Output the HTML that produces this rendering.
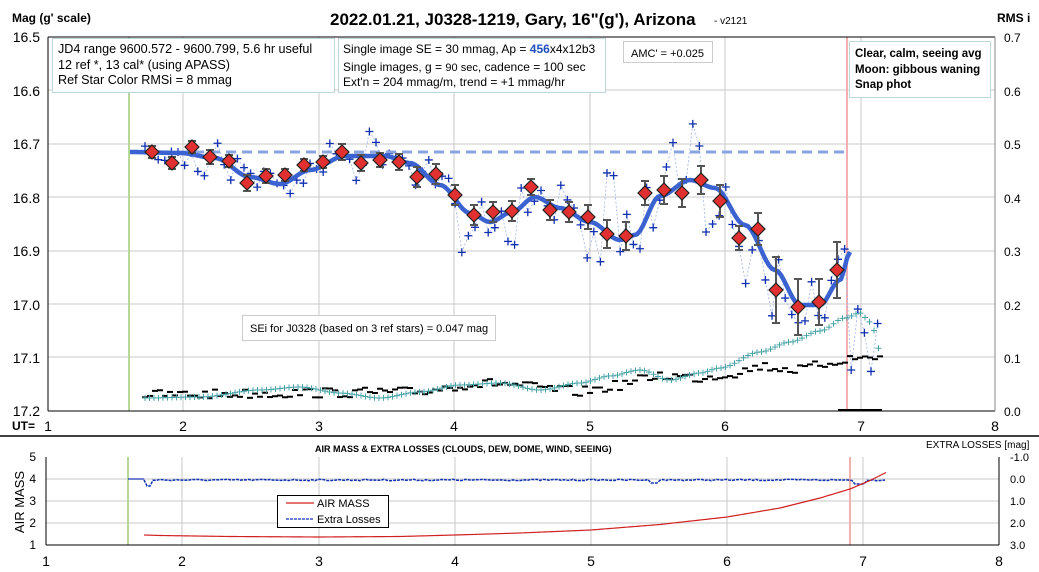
<!DOCTYPE html>
<html><head><meta charset="utf-8"><style>
body{margin:0;background:#fff;}
svg{display:block;font-family:"Liberation Sans",sans-serif;}
</style></head><body>
<svg id="s" width="1039" height="572" viewBox="0 0 1039 572" xmlns="http://www.w3.org/2000/svg">
<rect width="1039" height="572" fill="#fff"/>
<g id="grid" stroke="#c8c8c8" stroke-width="1"></g>
<g id="data"></g>
<line x1="48" y1="37" x2="995" y2="37" stroke="#000"/>
<line x1="48" y1="37" x2="48" y2="411" stroke="#000"/>
<line x1="48" y1="411" x2="995" y2="411" stroke="#000"/>
<line x1="995" y1="37" x2="995" y2="411" stroke="#888"/>
<g font-size="14" fill="#000">
<text x="40" y="42" text-anchor="end">16.5</text>
<text x="40" y="96" text-anchor="end">16.6</text>
<text x="40" y="149" text-anchor="end">16.7</text>
<text x="40" y="203" text-anchor="end">16.8</text>
<text x="40" y="256" text-anchor="end">16.9</text>
<text x="40" y="310" text-anchor="end">17.0</text>
<text x="40" y="363" text-anchor="end">17.1</text>
<text x="40" y="416" text-anchor="end">17.2</text>
</g>
<g font-size="12" fill="#000">
<text x="1004" y="42">0.7</text><text x="1004" y="96">0.6</text><text x="1004" y="149">0.5</text>
<text x="1004" y="203">0.4</text><text x="1004" y="256">0.3</text><text x="1004" y="310">0.2</text>
<text x="1004" y="363">0.1</text><text x="1004" y="416">0.0</text>
</g>
<g font-size="14" text-anchor="middle">
<text x="48" y="431">1</text><text x="183" y="431">2</text><text x="319" y="431">3</text><text x="454" y="431">4</text>
<text x="590" y="431">5</text><text x="725" y="431">6</text><text x="861" y="431">7</text><text x="995" y="431">8</text>
</g>
<text x="12" y="430" font-size="12" font-weight="bold">UT=</text>
<text x="12" y="22" font-size="12" font-weight="bold">Mag (g' scale)</text>
<text x="997" y="22" font-size="12" font-weight="bold">RMS i</text>
<text x="330" y="25" font-size="17" font-weight="bold">2022.01.21, J0328-1219, Gary, 16"(g'), Arizona</text>
<text x="714" y="24" font-size="10">- v2121</text>
<rect x="52.5" y="38.5" width="282" height="54" fill="#fff" stroke="#bcd8dc"/>
<g font-size="12.6"><text x="58" y="53">JD4 range 9600.572 - 9600.799, 5.6 hr useful</text>
<text x="58" y="69">12 ref *, 13 cal* (using APASS)</text>
<text x="58" y="84">Ref Star Color RMSi = 8 mmag</text></g>
<rect x="338.5" y="38.5" width="267" height="54" fill="#fff" stroke="#bcd8dc"/>
<g font-size="12"><text x="343" y="53">Single image SE = 30 mmag, Ap = <tspan fill="#2050c0" font-weight="bold">456</tspan>x4x12b3</text>
<text x="343" y="71">Single images, g = <tspan font-size="11">90 sec</tspan>, cadence = 100 sec</text>
<text x="343" y="86">Ext'n = 204 mmag/m, trend = +1 mmag/hr</text></g>
<rect x="623.5" y="41.5" width="89" height="21" fill="#fff" stroke="#ccc"/>
<text x="631" y="57" font-size="11">AMC' = +0.025</text>
<rect x="849.5" y="41.5" width="141" height="56" fill="#fff" stroke="#bcd8dc"/>
<g font-size="11.5" font-weight="bold"><text x="855" y="57">Clear, calm, seeing avg</text>
<text x="855" y="73">Moon: gibbous waning</text><text x="855" y="88">Snap phot</text></g>
<rect x="242.5" y="315.5" width="253" height="25" fill="#fff" stroke="#ccc"/>
<text x="250" y="332" font-size="11">SEi for J0328 (based on 3 ref stars) = 0.047 mag</text>
<line x1="0" y1="436" x2="1039" y2="436" stroke="#000" stroke-width="1.5"/>
<text x="315" y="452" font-size="9" font-weight="bold">AIR MASS &amp; EXTRA LOSSES (CLOUDS, DEW, DOME, WIND, SEEING)</text>
<text x="926" y="448" font-size="10">EXTRA LOSSES [mag]</text>
<line x1="46" y1="457" x2="46" y2="545" stroke="#000"/>
<line x1="46" y1="545" x2="999" y2="545" stroke="#000"/>
<line x1="999" y1="457" x2="999" y2="545" stroke="#000"/>
<g font-size="12" text-anchor="end"><text x="36" y="461">5</text><text x="36" y="483">4</text><text x="36" y="505">3</text><text x="36" y="527">2</text><text x="36" y="549">1</text></g>
<g font-size="11"><text x="1010" y="461">-1.0</text><text x="1010" y="483">0.0</text><text x="1010" y="505">1.0</text><text x="1010" y="527">2.0</text><text x="1010" y="549">3.0</text></g>
<g font-size="14" text-anchor="middle">
<text x="46" y="566">1</text><text x="182" y="566">2</text><text x="319" y="566">3</text><text x="455" y="566">4</text>
<text x="591" y="566">5</text><text x="727" y="566">6</text><text x="863" y="566">7</text><text x="999" y="566">8</text>
</g>
<text x="24" y="502" font-size="13" text-anchor="middle" transform="rotate(-90 24 502)">AIR MASS</text>
</svg>
<script>
var NS="http://www.w3.org/2000/svg",s=document.getElementById('s'),g=document.getElementById('grid'),d=document.getElementById('data');
function el(p,t,a){var e=document.createElementNS(NS,t);for(var k in a)e.setAttribute(k,a[k]);p.appendChild(e);return e;}
var seed=7;function r(){seed=(seed*16807)%2147483647;return seed/2147483647;}
function interp(k,x,sm){for(var i=0;i<k.length-1;i++){if(x<=k[i+1][0]){var a=k[i],b=k[i+1],t=(x-a[0])/(b[0]-a[0]);if(sm)t=t*t*(3-2*t);return a[1]+(b[1]-a[1])*t;}}return k[k.length-1][1];}
[183,319,454,590,725,861].forEach(function(x){el(g,'line',{x1:x,y1:37,x2:x,y2:411});});
[90,144,197,251,304,357].forEach(function(y){el(g,'line',{x1:48,y1:y,x2:995,y2:y});});
[182,319,455,591,727,863].forEach(function(x){el(g,'line',{x1:x,y1:457,x2:x,y2:545});});
[479,501,523].forEach(function(y){el(g,'line',{x1:46,y1:y,x2:999,y2:y});});
el(d,'line',{x1:129,y1:37,x2:129,y2:411,stroke:'#b5d89a','stroke-width':2});
el(d,'line',{x1:847,y1:37,x2:847,y2:411,stroke:'#f4b0b0','stroke-width':2});
el(d,'line',{x1:128,y1:457,x2:128,y2:545,stroke:'#b5d89a','stroke-width':2});
el(d,'line',{x1:850,y1:457,x2:850,y2:545,stroke:'#f4b0b0','stroke-width':2});
var fk=[[130,152],[180,153],[215,158],[250,177],[280,184],[310,170],[345,156],[385,156],[410,163],[440,185],[470,213],[490,222],[512,212],[535,197],[560,208],[590,222],[620,240],[635,235],[660,196],[690,180],[715,188],[745,225],[775,270],[800,305],[820,305],[840,280],[850,252]];
function fy(x){return interp(fk,x,true);}
var pts=[];for(var x=145;x<=882;x+=6.6){var sd=x<400?14:x<600?24:32;var y=fy(Math.min(x,850))+(r()+r()+r()-1.5)*sd*1.5;if(x>850)y=190+r()*190;pts.push([x,y]);}
el(d,'polyline',{points:pts.map(function(p){return p[0]+','+p[1]}).join(' '),fill:'none',stroke:'#9fb3e8','stroke-width':0.8,'stroke-dasharray':'2,2'});
var tk=[[145,398],[200,397],[260,390],[300,387],[340,393],[380,398],[420,392],[460,385],[500,383],[540,390],[580,383],[610,376],[640,370],[670,380],[700,373],[720,368],[760,352],[790,342],[820,331],[845,318],[860,313],[870,322],[882,355]];
var bk=[[145,395],[300,393],[420,392],[460,385],[500,383],[540,388],[580,392],[620,385],[660,375],[700,378],[740,372],[760,366],[800,370],[840,360],[882,356]];
for(var x=145;x<=882;x+=5){var by=interp(bk,x)+(r()-0.5)*10;el(d,'line',{x1:x-3,y1:by,x2:x+3,y2:by,stroke:'#000','stroke-width':2});}
for(var x=145;x<=882;x+=4.5){var ty=interp(tk,x,true);el(d,'path',{d:'M'+(x-3)+' '+ty+'h6M'+x+' '+(ty-3)+'v6',stroke:'#4aa3a8','stroke-width':1});}
el(d,'line',{x1:838,y1:410,x2:882,y2:410,stroke:'#000','stroke-width':2});
pts.forEach(function(p){el(d,'path',{d:'M'+(p[0]-4)+' '+p[1]+'h8M'+p[0]+' '+(p[1]-4)+'v8',stroke:'#1030b0','stroke-width':1.3});});
el(d,'line',{x1:130,y1:152,x2:847,y2:152,stroke:'#8aa4e0','stroke-width':3,'stroke-dasharray':'10,6'});
var fp=[];for(var x=130;x<=850;x+=3)fp.push(x+','+fy(x));
el(d,'polyline',{points:fp.join(' '),fill:'none',stroke:'#3a62d0','stroke-width':4.5,'stroke-linejoin':'round'});
var dm=[[152,152,6],[172,163,6],[192,147,6],[210,157,7],[229,161,6],[247,183,8],[266,176,7],[285,175,6],[304,165,6],[323,162,6],[342,152,8],[361,163,8],[380,160,7],[399,162,8],[417,177,10],[436,174,10],[455,195,10],[474,215,10],[493,212,10],[512,211,10],[531,187,8],[550,210,10],[569,212,10],[588,217,12],[607,234,14],[626,236,14],[645,193,12],[664,190,14],[682,193,14],[701,180,14],[720,201,16],[739,238,12],[758,229,16],[776,290,33],[798,307,28],[819,302,23],[837,270,28]];
dm.forEach(function(p){el(d,'line',{x1:p[0],y1:p[1]-p[2],x2:p[0],y2:p[1]+p[2],stroke:'#555','stroke-width':2});
el(d,'path',{d:'M'+(p[0]-4)+' '+(p[1]-p[2])+'h8M'+(p[0]-4)+' '+(p[1]+p[2])+'h8',stroke:'#555','stroke-width':2});
el(d,'path',{d:'M'+p[0]+' '+(p[1]-7)+'l7 7l-7 7l-7-7z',fill:'#e03030',stroke:'#222','stroke-width':1.2});});
el(d,'line',{x1:128,y1:479,x2:144,y2:479,stroke:'#1030b0','stroke-width':1.2});
var bl=[];for(var x=144;x<=887;x+=3){var y=480+(r()-0.5)*1.5;if(Math.abs(x-148)<4)y=486;if(Math.abs(x-654)<4)y=483;if(Math.abs(x-860)<6)y=484;bl.push(x+','+y);}
el(d,'polyline',{points:bl.join(' '),fill:'none',stroke:'#1030b0','stroke-width':1.5,'stroke-dasharray':'3,1'});
var ak=[[144,535],[160,535.5],[230,536.5],[319,537],[400,536.5],[455,535],[520,533],[591,530],[660,524.5],[727,517],[780,508],[820,498],[850,489],[870,480.5],[887,472]];
var am=[];for(var x=144;x<=887;x+=2)am.push(x+','+interp(ak,x,false));
el(d,'polyline',{points:am.join(' '),fill:'none',stroke:'#d02020','stroke-width':1.2});
el(d,'rect',{x:277.5,y:495.5,width:111,height:32,fill:'#fff',stroke:'#000'});
el(d,'line',{x1:286,y1:503,x2:314,y2:503,stroke:'#d02020','stroke-width':1.2});
el(d,'line',{x1:286,y1:519,x2:314,y2:519,stroke:'#1030b0','stroke-width':1.3,'stroke-dasharray':'3,1'});
var t1=el(d,'text',{x:317,y:507,'font-size':11});t1.textContent='AIR MASS';
var t2=el(d,'text',{x:317,y:523,'font-size':11});t2.textContent='Extra Losses';
</script>
</body></html>
